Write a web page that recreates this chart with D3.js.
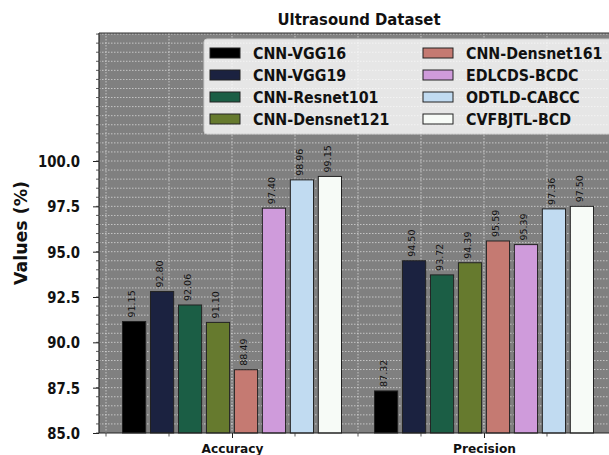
<!DOCTYPE html>
<html>
<head>
<meta charset="utf-8">
<script src="https://cdn.jsdelivr.net/npm/d3@7"></script>
<style>
  html, body { margin: 0; padding: 0; background: #fff; }
  svg { display: block; font-family: "DejaVu Sans", sans-serif; }
</style>
</head>
<body>
<svg id="chart" width="609" height="455"></svg>
<script>
const categories = ["Accuracy", "Precision"];
const models = ["CNN-VGG16", "CNN-VGG19", "CNN-Resnet101", "CNN-Densnet121",
                "CNN-Densnet161", "EDLCDS-BCDC", "ODTLD-CABCC", "CVFBJTL-BCD"];
const accuracyValues  = [91.15, 92.80, 92.06, 91.10, 88.49, 97.40, 98.96, 99.15];
const precisionValues = [87.32, 94.50, 93.72, 94.39, 95.59, 95.39, 97.36, 97.50];
const colors = ["#000000", "#1b2240", "#1b5e45", "#667a2e",
                "#c57a72", "#cf9bdb", "#c1dbf1", "#f7fbf7"];
const yTickValues = [85.0, 87.5, 90.0, 92.5, 95.0, 97.5, 100.0];
const seriesByCategory = [accuracyValues, precisionValues];

(function () {
const svg = d3.select("#chart");
const pL = 99, pR = 617, pT = 33, pB = 433;

const x = d3.scaleLinear().domain([-0.5278, 1.5278]).range([pL, pR]);
const y = d3.scaleLinear().domain([85, 107.06]).range([pB, pT]);

const pitch = 0.111, barW = 0.092;

// background
svg.append("rect").attr("x", pL).attr("y", pT)
  .attr("width", pR - pL).attr("height", pB - pT).attr("fill", "#808080");

// grid
const g = svg.append("g");
const hGrid = d3.range(85.5, 107.01, 0.5);
g.selectAll("line.h").data(hGrid).join("line").attr("class", "h")
  .attr("x1", pL).attr("x2", pR)
  .attr("y1", d => y(d)).attr("y2", d => y(d))
  .attr("stroke", "#e8e8e8").attr("stroke-width", 0.8)
  .attr("stroke-dasharray", "1.5,1.5").attr("opacity", 0.85);
const vGrid = d3.range(-0.5, 1.51, 0.25);
g.selectAll("line.v").data(vGrid).join("line").attr("class", "v")
  .attr("y1", pT).attr("y2", pB)
  .attr("x1", d => x(d)).attr("x2", d => x(d))
  .attr("stroke", "#e8e8e8").attr("stroke-width", 0.8)
  .attr("stroke-dasharray", "1.5,1.5").attr("opacity", 0.85);

// bars
categories.forEach((cat, ci) => {
  const vals = seriesByCategory[ci];
  const bg = svg.append("g");
  vals.forEach((v, i) => {
    const cx = ci + (i - 3.5) * pitch;
    const x0 = x(cx - barW / 2), x1 = x(cx + barW / 2);
    bg.append("rect")
      .attr("x", x0).attr("y", y(v))
      .attr("width", x1 - x0).attr("height", y(85) - y(v))
      .attr("fill", colors[i]).attr("stroke", "#222").attr("stroke-width", 1);
    bg.append("text")
      .attr("transform", `translate(${x(cx) + 1},${y(v) - 4}) rotate(-90)`)
      .attr("text-anchor", "start")
      .attr("font-size", 9.5).attr("fill", "#111")
      .text(v.toFixed(2));
  });
});

// frame
svg.append("line").attr("x1", pL).attr("x2", pL).attr("y1", pT).attr("y2", pB)
  .attr("stroke", "#222").attr("stroke-width", 1.2);
svg.append("line").attr("x1", pL).attr("x2", pR).attr("y1", pB).attr("y2", pB)
  .attr("stroke", "#222").attr("stroke-width", 1.2);
svg.append("line").attr("x1", pL).attr("x2", pR).attr("y1", pT).attr("y2", pT)
  .attr("stroke", "#333").attr("stroke-width", 1.2);

// y axis
const yAxis = d3.axisLeft(y).tickValues(yTickValues).tickSize(6).tickFormat(d3.format(".1f"));
const ya = svg.append("g").attr("transform", `translate(${pL},0)`).call(yAxis);
ya.select(".domain").remove();
ya.selectAll("line").attr("stroke", "#222");
ya.selectAll("text").remove();
yTickValues.forEach(t => {
  svg.append("text")
    .attr("transform", `translate(80,${y(t) + 6}) scale(0.83,1)`)
    .attr("text-anchor", "end").attr("font-size", 16).attr("font-weight", "bold")
    .attr("fill", "#111").text(d3.format(".1f")(t));
});
// minor y ticks
svg.append("g").selectAll("line").data(d3.range(85, 107.01, 0.5)).join("line")
  .attr("x1", pL - 3).attr("x2", pL)
  .attr("y1", d => y(d)).attr("y2", d => y(d)).attr("stroke", "#333").attr("stroke-width", 0.8);

// x axis
const xAxis = d3.axisBottom(x).tickValues([0, 1]).tickSize(5).tickFormat(i => categories[i]);
const xa = svg.append("g").attr("transform", `translate(0,${pB})`).call(xAxis);
xa.select(".domain").remove();
xa.selectAll("line").attr("stroke", "#222");
xa.selectAll("text").attr("font-size", 12.2).attr("font-weight", "bold").attr("fill", "#111")
  .attr("font-family", "DejaVu Sans").attr("dy", null).attr("y", 20);
svg.append("g").selectAll("line").data(vGrid.filter(d => Math.abs(d - Math.round(d)) > 0.01))
  .join("line")
  .attr("x1", d => x(d)).attr("x2", d => x(d))
  .attr("y1", pB).attr("y2", pB + 3.5).attr("stroke", "#333").attr("stroke-width", 0.8);

// y label
svg.append("text")
  .attr("transform", `translate(27,${(pT + pB) / 2}) rotate(-90)`)
  .attr("text-anchor", "middle").attr("font-size", 17.4).attr("font-weight", "bold")
  .attr("fill", "#111").text("Values (%)");

// title
svg.append("text")
  .attr("transform", `translate(359,25) scale(0.9,1)`)
  .attr("text-anchor", "middle").attr("font-size", 16.5).attr("font-weight", "bold")
  .attr("fill", "#111").text("Ultrasound Dataset");

// legend
const lg = svg.append("g");
lg.append("rect").attr("x", 204).attr("y", 39).attr("width", 430).attr("height", 95)
  .attr("rx", 3).attr("fill", "#ffffff").attr("fill-opacity", 0.8)
  .attr("stroke", "#cccccc").attr("stroke-width", 1);
const rowY = [53, 75, 97, 119];
const colX = [210, 423];
models.forEach((m, i) => {
  const col = Math.floor(i / 4), row = i % 4;
  lg.append("rect").attr("x", colX[col]).attr("y", rowY[row] - 5)
    .attr("width", 30).attr("height", 10)
    .attr("fill", colors[i]).attr("stroke", "#222").attr("stroke-width", 1);
  lg.append("text")
    .attr("transform", `translate(${colX[col] + 43},${rowY[row] + 6}) scale(0.89,1)`)
    .attr("font-size", 16).attr("font-weight", "bold").attr("fill", "#111").text(m);
});
})();
</script>
</body>
</html>
